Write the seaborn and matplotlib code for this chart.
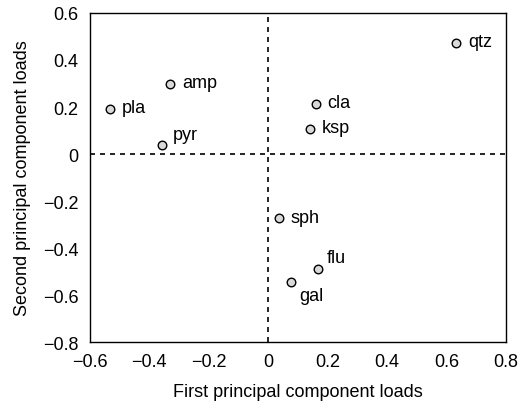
import matplotlib
matplotlib.use("Agg")
import matplotlib.pyplot as plt
import seaborn as sns
import pandas as pd

minerals = ["qtz", "amp", "pla", "pyr", "cla", "ksp", "sph", "flu", "gal"]
pc1 = [0.634, -0.330, -0.533, -0.357, 0.160, 0.140, 0.037, 0.168, 0.076]
pc2 = [0.471, 0.298, 0.190, 0.040, 0.213, 0.106, -0.274, -0.489, -0.543]

# label offsets in points (dx, dy)
offsets = {"pyr": (8, 7), "flu": (6, 8), "gal": (6, -10)}

df = pd.DataFrame({"mineral": minerals, "pc1": pc1, "pc2": pc2})

sns.set_style("ticks")
plt.rcParams["font.family"] = ["Liberation Sans", "DejaVu Sans"]
plt.rcParams["text.color"] = "black"
plt.rcParams["axes.labelcolor"] = "black"
plt.rcParams["xtick.color"] = "black"
plt.rcParams["ytick.color"] = "black"

fig = plt.figure(figsize=(5.28, 4.10), dpi=100)
ax = fig.add_axes([0.170, 0.163, 0.788, 0.803])

ax.axhline(0, color="black", lw=1.2, ls=(0, (3, 3)), zorder=1)
ax.axvline(0, color="black", lw=1.2, ls=(0, (3, 3)), zorder=1)

sns.scatterplot(data=df, x="pc1", y="pc2", ax=ax, s=38, color="#d9d9d9",
                edgecolor="black", linewidth=1.0, zorder=3)

for m, x, y in zip(minerals, pc1, pc2):
    dx, dy = offsets.get(m, (8.5, 1))
    ax.annotate(m, (x, y), xytext=(dx, dy), textcoords="offset points",
                ha="left", va="center", fontsize=13)

ax.set_xlim(-0.6, 0.8)
ax.set_ylim(-0.8, 0.6)
ax.set_xticks([-0.6, -0.4, -0.2, 0, 0.2, 0.4, 0.6, 0.8])
ax.set_yticks([-0.8, -0.6, -0.4, -0.2, 0, 0.2, 0.4, 0.6])
ax.set_xticklabels(["\u22120.6", "\u22120.4", "\u22120.2", "0", "0.2", "0.4", "0.6", "0.8"])
ax.set_yticklabels(["\u22120.8", "\u22120.6", "\u22120.4", "\u22120.2", "0", "0.2", "0.4", "0.6"])
ax.tick_params(length=0, labelsize=13, pad=8)
for s in ax.spines.values():
    s.set_linewidth(1.0)
    s.set_color("black")

ax.set_xlabel("First principal component loads", fontsize=13, labelpad=9)
ax.set_ylabel("Second principal component loads", fontsize=13, labelpad=9)

fig.savefig("out.png", dpi=100)
